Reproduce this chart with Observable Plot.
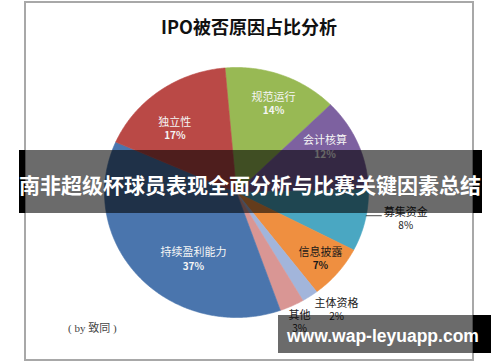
<!DOCTYPE html>
<html><head><meta charset="utf-8">
<script src="https://cdn.jsdelivr.net/npm/d3@7"></script>
<script src="https://cdn.jsdelivr.net/npm/@observablehq/plot@0.6"></script>
<style>
body{margin:0;background:#fff;}
#wrap{position:relative;width:500px;height:362px;overflow:hidden;background:#fff;font-family:"Noto Sans CJK SC","Noto Sans",sans-serif;}
#chart{position:absolute;left:0;top:0;}
#frame{position:absolute;left:24px;top:1px;width:450px;height:360px;box-sizing:border-box;border:2px solid #a8a8a8;}
#title{position:absolute;left:24px;width:450px;top:13px;line-height:26px;text-align:center;font-size:18px;font-weight:bold;color:#111;}
#caption{position:absolute;left:68px;top:320px;line-height:16px;font-size:11px;color:#444;font-family:"Liberation Serif","DejaVu Serif","Noto Sans CJK SC",serif;}
.shade{position:absolute;background:rgba(0,0,0,0.58);}
.blk{position:absolute;background:#000;}
#banner{position:absolute;left:0;width:500px;top:169px;line-height:30px;text-align:center;font-size:21px;font-weight:bold;color:#fff;white-space:nowrap;}
#wm{position:absolute;left:287px;top:326px;line-height:20px;font-size:17.5px;font-weight:bold;color:#fff;font-family:"Liberation Sans",Arial,sans-serif;white-space:nowrap;}
</style></head><body>
<div id="wrap">
  <div id="chart"></div>
  <div id="frame"></div>
  <div id="title">IPO被否原因占比分析</div>
  <div id="caption">( by 致同 )</div>
  <div class="blk" style="left:19px;top:150px;width:6px;height:63px;"></div>
  <div class="shade" style="left:25px;top:150px;width:448px;height:63px;"></div>
  <div class="blk" style="left:473px;top:150px;width:9px;height:63px;"></div>
  <div id="banner">南非超级杯球员表现全面分析与比赛关键因素总结</div>
  <div class="shade" style="left:278px;top:315px;width:195px;height:38px;"></div>
  <div class="blk" style="left:473px;top:315px;width:18px;height:38px;"></div>
  <div id="wm">www.wap-leyuapp.com</div>
</div>
<script>
// Data (clockwise from 12 o'clock)
const categories = ["规范运行","会计核算","募集资金","信息披露","主体资格","其他","持续盈利能力","独立性"];
const shares = [14, 12, 8, 7, 2, 3, 37, 17];
const percentLabels = ["14%","12%","8%","7%","2%","3%","37%","17%"];
const colors = ["#98b954","#7d61a0","#4aa7c2","#ef8f40","#a2b5db","#d99694","#4a75ad","#ba4946"];

// Layout
const startAngle = -5;
const lightText = new Set(["规范运行","会计核算","独立性","持续盈利能力"]);
const outside = new Set(["募集资金","主体资格","其他"]);
const labelRing = {"规范运行":[0.76,1.5],"会计核算":[0.76,-5],"募集资金":[1.30,-3.5],"信息披露":[0.83,0],
  "主体资格":[1.21,-5],"其他":[1.14,0],"持续盈利能力":[0.63,-16],"独立性":[0.69,-7]};

const rad = a => a * Math.PI / 180;
const total = d3.sum(shares);
let acc = startAngle;
const slices = categories.map((c, i) => {
  const a0 = acc, a1 = acc + shares[i] / total * 360; acc = a1;
  const [r, da] = labelRing[c];
  const la = (a0 + a1) / 2 + da;
  return {cat: c, pct: percentLabels[i], a0, a1, la, lx: r * Math.sin(rad(la)), ly: r * Math.cos(rad(la))};
});
const pts = [];
for (const s of slices) {
  pts.push({cat: s.cat, x: 0, y: 0});
  const n = Math.max(2, Math.ceil((s.a1 - s.a0) / 0.5));
  for (let k = 0; k <= n; k++) {
    const a = rad(s.a0 + (s.a1 - s.a0) * k / n);
    pts.push({cat: s.cat, x: Math.sin(a), y: Math.cos(a)});
  }
  pts.push({cat: s.cat, x: 0, y: 0});
}
// leader line for 募集资金
const fs = slices.find(s => s.cat === "募集资金");
const la = rad(fs.la + 1.2);
const leader = [{x: Math.sin(la), y: Math.cos(la)}, {x: Math.sin(la) + 0.115, y: Math.cos(la)}];

const inL = slices.filter(s => !outside.has(s.cat) && lightText.has(s.cat));
const inD = slices.filter(s => !outside.has(s.cat) && !lightText.has(s.cat));
const outL = slices.filter(s => outside.has(s.cat));

const plot = Plot.plot({
  width: 500, height: 362, margin: 0,
  x: {domain: [-1, 1], range: [104, 368], axis: null},
  y: {domain: [-1, 1], range: [317, 67], axis: null},
  color: {domain: categories, range: colors},
  style: {background: "transparent", fontFamily: "'Noto Sans CJK SC','Noto Sans',sans-serif"},
  marks: [
    Plot.line(pts, {x: "x", y: "y", z: "cat", fill: "cat", stroke: "cat", strokeWidth: 0.6, curve: "linear"}),
    Plot.line(leader, {x: "x", y: "y", stroke: "#333", strokeWidth: 0.9}),
    Plot.text(inL, {x: "lx", y: "ly", text: "cat", dy: -7, fill: "#f5f5f5", fontSize: 11}),
    Plot.text(inL, {x: "lx", y: "ly", text: "pct", dy: 7, fill: "#f5f5f5", fontSize: 10, fontWeight: "bold"}),
    Plot.text(inD, {x: "lx", y: "ly", text: "cat", dy: -7, fill: "#1a1a1a", fontSize: 11}),
    Plot.text(inD, {x: "lx", y: "ly", text: "pct", dy: 7, fill: "#1a1a1a", fontSize: 10, fontWeight: "bold"}),
    Plot.text(outL, {x: "lx", y: "ly", text: "cat", dy: -6.5, fill: "#222", fontSize: 11}),
    Plot.text(outL, {x: "lx", y: "ly", text: "pct", dy: 6.5, fill: "#222", fontSize: 10})
  ]
});
document.getElementById("chart").appendChild(plot);
</script>
</body></html>
